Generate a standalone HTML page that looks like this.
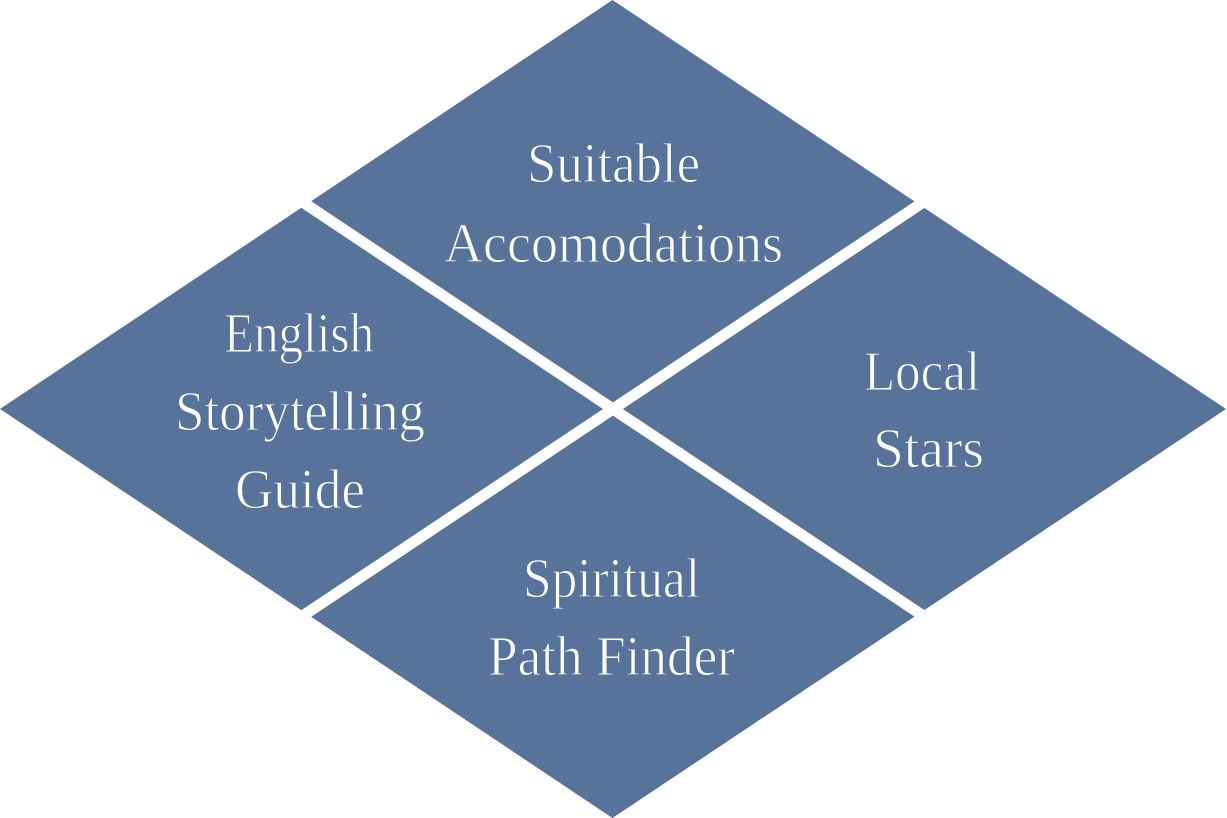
<!DOCTYPE html>
<html>
<head>
<meta charset="utf-8">
<style>
  html, body { margin: 0; padding: 0; background: #ffffff; }
  body { width: 1227px; height: 818px; overflow: hidden; }
  svg { display: block; }
  text { font-family: "Liberation Serif", serif; font-size: 56px; fill: #ffffff; stroke: #58739A; stroke-width: 1; }
</style>
</head>
<body>
<svg width="1227" height="818" viewBox="0 0 1227 818" xmlns="http://www.w3.org/2000/svg">
  <polygon points="0,409 612.5,0 1226,409 612.5,818" fill="#58739A"/>
  <line x1="270" y1="180.3" x2="956" y2="637.7" stroke="#ffffff" stroke-width="11"/>
  <line x1="270" y1="637.7" x2="956" y2="180.3" stroke="#ffffff" stroke-width="11"/>

  <text x="527" y="182" textLength="173" lengthAdjust="spacingAndGlyphs">Suitable</text>
  <text x="444" y="262" textLength="339" lengthAdjust="spacingAndGlyphs">Accomodations</text>

  <text x="224" y="352" textLength="150" lengthAdjust="spacingAndGlyphs">English</text>
  <text x="175" y="430" textLength="250" lengthAdjust="spacingAndGlyphs">Storytelling</text>
  <text x="235" y="508" textLength="130" lengthAdjust="spacingAndGlyphs">Guide</text>

  <text x="864" y="390" textLength="116" lengthAdjust="spacingAndGlyphs">Local</text>
  <text x="873" y="467" textLength="111" lengthAdjust="spacingAndGlyphs">Stars</text>

  <text x="523" y="597" textLength="177" lengthAdjust="spacingAndGlyphs">Spiritual</text>
  <text x="488" y="675" textLength="247" lengthAdjust="spacingAndGlyphs">Path Finder</text>
</svg>
</body>
</html>
